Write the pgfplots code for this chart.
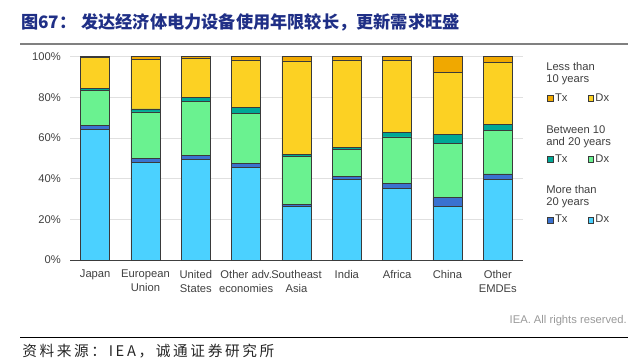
\documentclass[border=0pt]{standalone}
\usepackage{pgfplots}
\pgfplotsset{compat=1.18}
\usepackage{pgfplotstable}
\usepackage{fontspec}
\setmainfont{Liberation Sans}
\newfontfamily\cjk{Noto Sans CJK SC}
\definecolor{dxA}{HTML}{4BD1FF}
\definecolor{txA}{HTML}{3A72D0}
\definecolor{dxB}{HTML}{6AF290}
\definecolor{txB}{HTML}{00A896}
\definecolor{dxC}{HTML}{FCD123}
\definecolor{txC}{HTML}{F0A800}
\definecolor{titleblue}{HTML}{1F2F86}
\definecolor{ticktext}{HTML}{404040}
\definecolor{bardraw}{HTML}{3A3A3A}

\pgfplotstableread{
x dxA txA dxB txB dxC txC
0 64.3 1.9 17.4 0.8 15.3 0.3
1 48.0 2.0 22.8 1.5 24.4 1.3
2 49.3 2.0 26.6 1.9 19.4 0.8
3 45.4 2.3 24.4 2.8 23.5 1.6
4 26.4 1.1 23.3 1.3 45.8 2.1
5 39.7 1.4 13.3 1.0 43.0 1.6
6 35.2 2.5 22.8 2.3 35.4 1.8
7 26.4 4.3 26.7 4.4 30.5 7.7
8 39.7 2.6 21.6 2.8 30.3 3.0
}\data

\pgfplotsset{sqleg/.style={legend image code/.code={\draw[##1,draw=bardraw,line width=0.5pt] (0pt,-2.2pt) rectangle (4.4pt,2.2pt);}}}

\begin{document}
\begin{tikzpicture}[font=\fontsize{8.4}{10.5}\selectfont]
\begin{scope}[x=0.75pt,y=-0.75pt]
\path[use as bounding box] (0,0) rectangle (635,355);
\end{scope}
\begin{axis}[
  at={(52.5pt,-195pt)}, anchor=south west,
  scale only axis, width=339.75pt, height=152.5pt,
  ybar stacked, bar width=21.75pt,
  xmin=-0.5, xmax=8.5, ymin=0, ymax=100,
  xtick={0,...,8},
  xticklabels={Japan,European\\Union,United\\States,Other adv.\\economies,Southeast\\Asia,India,Africa,China,Other\\EMDEs},
  xticklabel style={align=center, font=\fontsize{8.4}{10.5}\selectfont, text=ticktext, inner sep=0pt, anchor=north, yshift=-7.5pt},
  ytick={0,20,...,100},
  yticklabels={0\%,20\%,40\%,60\%,80\%,100\%},
  yticklabel style={font=\fontsize{8.4}{10.5}\selectfont, text=ticktext, inner sep=0pt, anchor=east, xshift=-6.75pt},
  ymajorgrids, grid style={draw=black!12, line width=0.6pt},
  axis lines=left, axis line style={-},
  y axis line style={draw=none},
  x axis line style={draw=black!75, line width=0.7pt},
  major tick length=0pt,
  every axis plot/.append style={draw=bardraw, line width=0.55pt},
  legend columns=2,
  legend style={at={(1.053,0.826)}, anchor=north west, draw=none, fill=none,
    inner sep=0pt, row sep=36pt, column sep=0pt,
    font=\fontsize{8.4}{10}\selectfont, text=ticktext,
    cells={anchor=west}, nodes={inner sep=1pt, text height=6pt, text depth=1.5pt},
    /tikz/every even column/.append style={column sep=14pt}},
]
\addlegendimage{sqleg, fill=txC}\addlegendentry{Tx}
\addlegendimage{sqleg, fill=dxC}\addlegendentry{Dx}
\addlegendimage{sqleg, fill=txB}\addlegendentry{Tx}
\addlegendimage{sqleg, fill=dxB}\addlegendentry{Dx}
\addlegendimage{sqleg, fill=txA}\addlegendentry{Tx}
\addlegendimage{sqleg, fill=dxA}\addlegendentry{Dx}
\addplot[fill=dxA] table[x=x,y=dxA]{\data};
\addplot[fill=txA] table[x=x,y=txA]{\data};
\addplot[fill=dxB] table[x=x,y=dxB]{\data};
\addplot[fill=txB] table[x=x,y=txB]{\data};
\addplot[fill=dxC] table[x=x,y=dxC]{\data};
\addplot[fill=txC] table[x=x,y=txC]{\data};
\end{axis}
\begin{scope}[x=0.75pt,y=-0.75pt]
% title
\node[anchor=west, inner sep=0pt, text=titleblue, font=\cjk\bfseries\fontsize{12.9}{14}\selectfont] at (21,22) {图67：};
\node[anchor=west, inner sep=0pt, text=titleblue, font=\cjk\bfseries\fontsize{12.9}{14}\selectfont] at (81,22) {发达经济体电力设备使用年限较长，更新需求旺盛};
\draw[black!50, line width=1.1pt] (20,44) -- (628,44);
% legend headers
\node[anchor=base west, inner sep=0pt, align=left, text=ticktext, font=\fontsize{8.4}{8.7}\selectfont] at (546,82.3) {Less than\\10 years};
\node[anchor=base west, inner sep=0pt, align=left, text=ticktext, font=\fontsize{8.4}{8.7}\selectfont] at (546,145.5) {Between 10\\and 20 years};
\node[anchor=base west, inner sep=0pt, align=left, text=ticktext, font=\fontsize{8.4}{8.7}\selectfont] at (546,205.5) {More than\\20 years};
% footer
\node[anchor=base east, inner sep=0pt, text=black!40, font=\fontsize{8.4}{10}\selectfont] at (627,323) {IEA. All rights reserved.};
\draw[black, line width=0.75pt] (20,337) -- (628,337);
\node[anchor=base west, inner sep=0pt, text=black!85, font=\cjk\addfontfeature{LetterSpace=18}\fontsize{11}{12}\selectfont] at (22,356) {资料来源：IEA，诚通证券研究所};
\end{scope}
\end{tikzpicture}
\end{document}
